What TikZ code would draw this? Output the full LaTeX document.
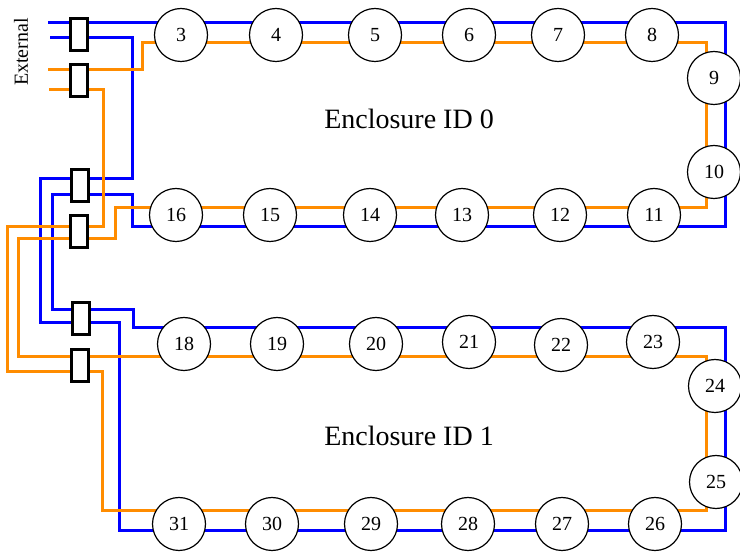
\documentclass[tikz,border=0pt]{standalone}
\usepackage{fontspec}
\setmainfont{Liberation Serif}
\definecolor{wireblue}{RGB}{0,0,255}
\definecolor{wireorange}{RGB}{255,140,0}
\begin{document}
\begin{tikzpicture}[x=1pt,y=-1pt,
  bluewire/.style={draw=wireblue, line width=3pt},
  orangewire/.style={draw=wireorange, line width=3pt},
  disk/.style={circle, draw=black, line width=1.2pt, fill=white, minimum size=53pt, inner sep=0pt, font=\fontsize{20}{24}\selectfont},
  connbox/.style={rectangle, draw=black, line width=3pt, fill=white, minimum width=17pt, minimum height=32pt, inner sep=0pt},
  title/.style={font=\fontsize{28}{34}\selectfont}]
\useasboundingbox (0,0) rectangle (740,553);

% external ends
\coordinate (eb1) at (48,23);
\coordinate (eb2) at (50,38);
\coordinate (eo1) at (48,70);
\coordinate (eo2) at (49,90);

% wires
\draw[bluewire] (eb1) -- (725,23) -- (725,227) -- (132,227) -- (132,195) -- (52,195) -- (52,310) -- (133,310) -- (133,328) -- (725,328) -- (725,531) -- (119,531) -- (119,323) -- (40,323) -- (40,179) -- (132,179) -- (132,38) -- (eb2);
\draw[orangewire] (eo1) -- (142,70) -- (142,43) -- (706,43) -- (706,208) -- (115,208) -- (115,239) -- (18,239) -- (18,357) -- (706,357) -- (706,511) -- (102,511) -- (102,372) -- (7,372) -- (7,227) -- (103,227) -- (103,90) -- (eo2);

% connectors
\node[connbox] (c1) at (79,34.5) {};
\node[connbox] (c2) at (79,81) {};
\node[connbox] (c3) at (79.5,185.5) {};
\node[connbox] (c4) at (79,231.5) {};
\node[connbox] (c5) at (80.5,318.5) {};
\node[connbox] (c6) at (80,365.5) {};

% enclosure 0
\node[disk] (n3) at (181,35) {3};
\node[disk] (n4) at (276,35) {4};
\node[disk] (n5) at (375,35) {5};
\node[disk] (n6) at (469,35) {6};
\node[disk] (n7) at (558,35) {7};
\node[disk] (n8) at (652,35) {8};
\node[disk] (n9) at (714,78) {9};
\node[disk] (n10) at (714,172) {10};
\node[disk] (n11) at (654,215) {11};
\node[disk] (n12) at (560,215) {12};
\node[disk] (n13) at (462,215) {13};
\node[disk] (n14) at (370,215) {14};
\node[disk] (n15) at (270,215) {15};
\node[disk] (n16) at (176,215) {16};

% enclosure 1
\node[disk] (n18) at (184,344) {18};
\node[disk] (n19) at (277,344) {19};
\node[disk] (n20) at (376,344) {20};
\node[disk] (n21) at (469,342) {21};
\node[disk] (n22) at (561,345) {22};
\node[disk] (n23) at (653,342) {23};
\node[disk] (n24) at (715,386) {24};
\node[disk] (n25) at (716,482) {25};
\node[disk] (n26) at (655,524) {26};
\node[disk] (n27) at (562,524) {27};
\node[disk] (n28) at (468,524) {28};
\node[disk] (n29) at (371,524) {29};
\node[disk] (n30) at (272,524) {30};
\node[disk] (n31) at (179,524) {31};

% labels
\node[rotate=90, font=\fontsize{20}{24}\selectfont] (ext) at (21,52) {External};
\node[title] (enc0) at (409,119) {Enclosure ID 0};
\node[title] (enc1) at (409,436) {Enclosure ID 1};
\end{tikzpicture}
\end{document}
